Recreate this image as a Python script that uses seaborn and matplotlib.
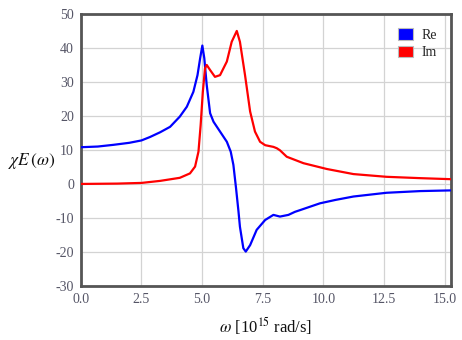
import numpy as np
import pandas as pd
import matplotlib
matplotlib.use("Agg")
import matplotlib.pyplot as plt
import matplotlib.patches as mpatches
import seaborn as sns

# Real part of the electric susceptibility
omega_re = [0.0, 0.7, 1.34, 2.0, 2.5, 2.85, 3.27, 3.68, 4.08, 4.37, 4.64, 4.81,
            4.92, 5.01, 5.09, 5.19, 5.33, 5.47, 5.74, 6.02, 6.18, 6.29, 6.4, 6.5,
            6.56, 6.7, 6.8, 6.98, 7.25, 7.6, 7.94, 8.21, 8.56, 8.83, 9.04, 9.86,
            10.5, 11.24, 12.6, 14.0, 15.25]
chi_re = [10.9, 11.1, 11.6, 12.2, 12.9, 13.9, 15.3, 16.9, 19.9, 22.8, 27.2, 32.1,
          37.1, 40.8, 37.1, 29.2, 20.9, 18.4, 15.5, 12.5, 9.6, 5.7, -1.2, -8.0,
          -12.5, -18.8, -19.8, -17.9, -13.4, -10.5, -9.0, -9.5, -9.0, -8.1, -7.6, -5.6,
          -4.6, -3.6, -2.5, -2.0, -1.8]

# Imaginary part of the electric susceptibility
omega_im = [0.0, 1.5, 2.5, 3.27, 4.08, 4.5, 4.71, 4.85, 4.94, 5.03, 5.12, 5.19,
            5.33, 5.53, 5.74, 6.02, 6.22, 6.43, 6.56, 6.77, 6.98, 7.18, 7.39, 7.6,
            7.94, 8.08, 8.21, 8.49, 9.18, 10.14, 11.24, 12.6, 14.0, 15.25]
chi_im = [0.1, 0.2, 0.4, 1.0, 1.9, 3.2, 5.2, 9.6, 17.4, 27.2, 34.1, 35.1,
          33.6, 31.6, 32.1, 36.1, 41.9, 45.1, 41.9, 32.1, 21.4, 15.5, 12.5, 11.5,
          11.0, 10.6, 10.0, 8.1, 6.2, 4.5, 3.0, 2.2, 1.8, 1.5]

series_names = ["Re", "Im"]
series_colors = ["#0000ff", "#ff0000"]
x_ticks = [0.0, 2.5, 5.0, 7.5, 10.0, 12.5, 15.0]
y_ticks = [-30, -20, -10, 0, 10, 20, 30, 40, 50]

df = pd.concat([
    pd.DataFrame({"omega": omega_re, "chi": chi_re, "part": "Re"}),
    pd.DataFrame({"omega": omega_im, "chi": chi_im, "part": "Im"}),
], ignore_index=True)

sns.set_style("white")
plt.rcParams["font.family"] = ["Liberation Serif", "DejaVu Serif"]
plt.rcParams["mathtext.fontset"] = "stix"

fig = plt.figure(figsize=(4.62, 3.40), dpi=100)
ax = fig.add_axes([0.175, 0.158, 0.8005, 0.800])

sns.lineplot(data=df, x="omega", y="chi", hue="part", hue_order=series_names,
             palette=dict(zip(series_names, series_colors)), linewidth=1.6,
             sort=False, legend=False, ax=ax, zorder=3,
             solid_joinstyle="round", solid_capstyle="round")

ax.set_xlim(0, 15.25)
ax.set_ylim(-30, 50)
ax.set_xticks(x_ticks)
ax.set_xticklabels([f"{t:.1f}" for t in x_ticks])
ax.set_yticks(y_ticks)
ax.set_yticklabels([str(t) for t in y_ticks])
ax.grid(True, color="#d3d3d3", linewidth=0.9, zorder=0)
ax.set_axisbelow(True)

for spine in ax.spines.values():
    spine.set_color("#555555")
    spine.set_linewidth(2.0)
    spine.set_visible(True)

ax.tick_params(axis="both", length=0, labelsize=10, labelcolor="#555566", pad=5)

ax.set_xlabel(r"$\omega$ [10$^{15}$ rad/s]", fontsize=12, color="#111111", labelpad=6)
ax.set_ylabel("")
fig.text(0.018, 0.527, r"$\chi E\,(\omega)$", fontsize=12.5, color="#111111",
         ha="left", va="center")

handles = [mpatches.Patch(facecolor=c, edgecolor="#bbbbbb", linewidth=0.8, label=n)
           for n, c in zip(series_names, series_colors)]
ax.legend(handles=handles, loc="upper right", frameon=False, fontsize=10,
          handlelength=1.1, handleheight=0.9, handletextpad=0.6,
          labelspacing=0.3, borderaxespad=0.6)

fig.savefig("out.png", dpi=100)
